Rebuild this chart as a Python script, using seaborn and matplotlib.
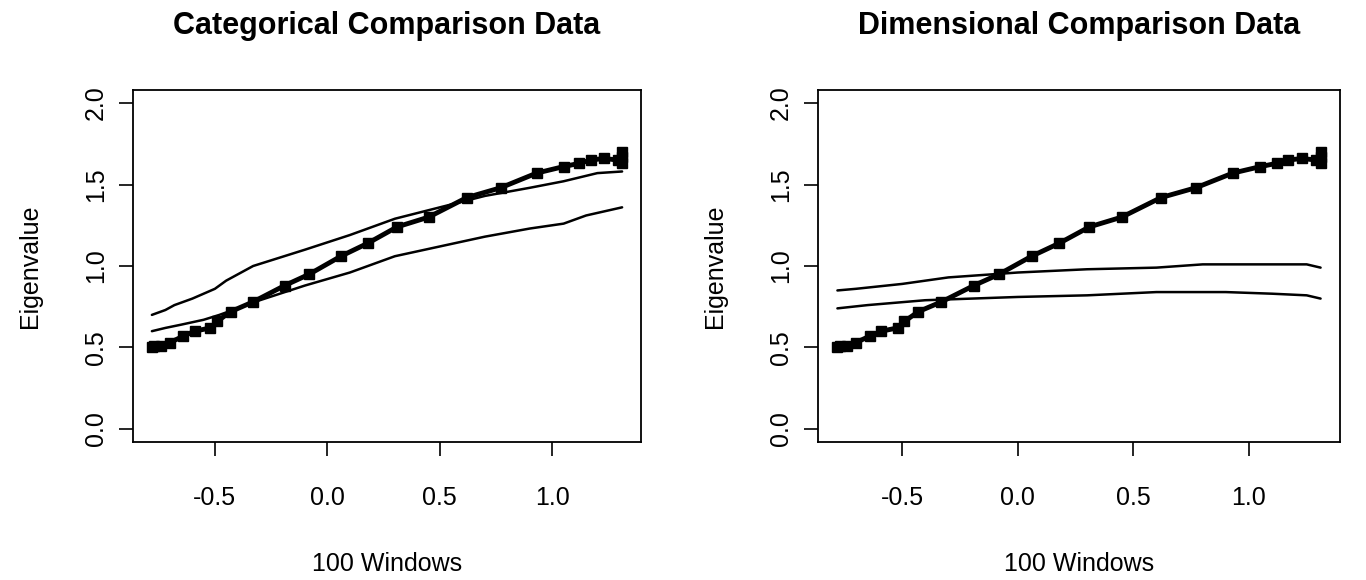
import matplotlib
matplotlib.use("Agg")
import matplotlib.pyplot as plt
import seaborn as sns
import pandas as pd

sns.set_style("white")
plt.rcParams['font.family'] = ['Liberation Sans', 'DejaVu Sans']
plt.rcParams['text.color'] = 'black'
plt.rcParams['axes.labelcolor'] = 'black'
plt.rcParams['xtick.color'] = 'black'
plt.rcParams['ytick.color'] = 'black'

obs_x = [-0.78,-0.77,-0.74,-0.70,-0.64,-0.59,-0.52,-0.49,-0.43,-0.33,-0.19,-0.08,0.06,0.18,0.31,0.45,0.62,0.77,0.93,1.05,1.12,1.17,1.23,1.29,1.31,1.31,1.31]
obs_y = [0.50,0.51,0.51,0.53,0.57,0.60,0.62,0.66,0.72,0.78,0.88,0.95,1.06,1.14,1.24,1.30,1.42,1.48,1.57,1.61,1.63,1.65,1.66,1.65,1.63,1.67,1.70]

cat_up_x = [-0.78,-0.72,-0.68,-0.60,-0.50,-0.45,-0.33,-0.10,0.10,0.30,0.50,0.70,0.90,1.05,1.20,1.31]
cat_up_y = [0.70,0.73,0.76,0.80,0.86,0.91,1.00,1.10,1.19,1.29,1.36,1.43,1.48,1.52,1.57,1.58]
cat_lo_x = [-0.78,-0.72,-0.65,-0.55,-0.48,-0.30,-0.10,0.10,0.30,0.50,0.70,0.90,1.05,1.15,1.31]
cat_lo_y = [0.60,0.62,0.64,0.67,0.70,0.79,0.88,0.96,1.06,1.12,1.18,1.23,1.26,1.31,1.36]

dim_up_x = [-0.78,-0.70,-0.50,-0.30,0.00,0.30,0.60,0.80,1.00,1.25,1.31]
dim_up_y = [0.85,0.86,0.89,0.93,0.96,0.98,0.99,1.01,1.01,1.01,0.99]
dim_lo_x = [-0.78,-0.65,-0.40,-0.20,0.00,0.30,0.60,0.90,1.10,1.25,1.31]
dim_lo_y = [0.74,0.76,0.79,0.80,0.81,0.82,0.84,0.84,0.83,0.82,0.80]

titles = ["Categorical Comparison Data", "Dimensional Comparison Data"]
xticks = [-0.5, 0.0, 0.5, 1.0]
yticks = [0.0, 0.5, 1.0, 1.5, 2.0]

fig = plt.figure(figsize=(13.66, 5.8), dpi=100)
axes = [fig.add_axes([133/1366, 1-442/580, 508/1366, 352/580]),
        fig.add_axes([818/1366, 1-442/580, 522/1366, 352/580])]
refs = [((cat_up_x, cat_up_y), (cat_lo_x, cat_lo_y)),
        ((dim_up_x, dim_up_y), (dim_lo_x, dim_lo_y))]

for ax, title, ref in zip(axes, titles, refs):
    for xs, ys in ref:
        sns.lineplot(x=xs, y=ys, ax=ax, color="black", lw=1.8, sort=False, estimator=None)
    sns.lineplot(x=obs_x, y=obs_y, ax=ax, color="black", lw=3.5, sort=False, estimator=None,
                 marker="s", markersize=7, markeredgecolor="black", markeredgewidth=1)
    ax.set_xlim(-0.864, 1.394)
    ax.set_ylim(-0.08, 2.08)
    ax.set_xticks(xticks)
    ax.set_xticklabels([f"{t:.1f}" for t in xticks])
    ax.set_yticks(yticks)
    ax.set_yticklabels([f"{t:.1f}" for t in yticks], rotation=90, va="center")
    ax.tick_params(axis="both", length=10, width=1.2, direction="out", color="black",
                   left=True, bottom=True, labelsize=18)
    ax.tick_params(axis="x", pad=22)
    ax.tick_params(axis="y", pad=8)
    for s in ax.spines.values():
        s.set_color("black"); s.set_linewidth(1.3)
    ax.set_xlabel("100 Windows", fontsize=18, labelpad=30)
    ax.set_ylabel("Eigenvalue", fontsize=18, labelpad=30)
    ax.set_title(title, fontsize=22, fontweight="bold", pad=40)

fig.savefig("out.png", dpi=100, facecolor="white")
